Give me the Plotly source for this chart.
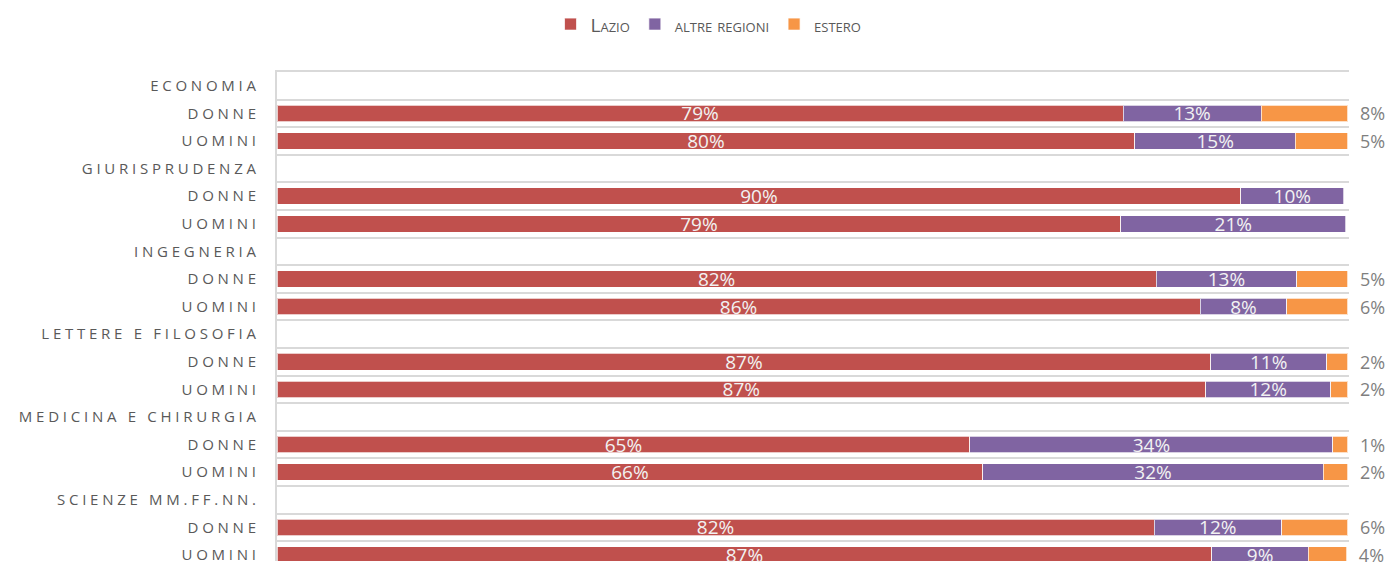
import plotly.graph_objects as go

# row labels, top to bottom (faculty header followed by women / men)
rows = [
    "ECONOMIA", "DONNE", "UOMINI",
    "GIURISPRUDENZA", "DONNE", "UOMINI",
    "INGEGNERIA", "DONNE", "UOMINI",
    "LETTERE E FILOSOFIA", "DONNE", "UOMINI",
    "MEDICINA E CHIRURGIA", "DONNE", "UOMINI",
    "SCIENZE MM.FF.NN.", "DONNE", "UOMINI",
]

# shares (%); None = header row / no bar
lazio = [None, 79.0, 80.1, None, 90.0, 78.8, None, 82.1, 86.2,
         None, 87.2, 86.7, None, 64.7, 65.9, None, 81.9, 87.3]
altre_regioni = [None, 12.9, 15.0, None, 9.6, 21.0, None, 13.1, 8.1,
                 None, 10.8, 11.7, None, 33.9, 31.8, None, 11.9, 9.0]
estero = [None, 8.1, 4.9, None, None, None, None, 4.8, 5.7,
          None, 2.0, 1.6, None, 1.4, 2.3, None, 6.2, 3.6]

colors = {"lazio": "#C0504D", "altre": "#8064A2", "estero": "#F79646"}
FONT = "Open Sans"
GRID = "#D9D9D9"


def spaced(label):
    # mimic the wide letter spacing of the original axis labels
    return "\u2005\u2005\u2005".join("\u2005".join(word) for word in label.split(" "))


ypos = list(range(len(rows)))

fig = go.Figure()
for name, vals, col, pos, tmpl in [
    ("Lazio", lazio, colors["lazio"], "inside", "%{x:.0f}%"),
    ("altre regioni", altre_regioni, colors["altre"], "inside", "%{x:.0f}%"),
    ("estero", estero, colors["estero"], "outside", "\u2002%{x:.0f}%"),
]:
    fig.add_trace(go.Bar(
        name=name,
        y=ypos,
        x=vals,
        orientation="h",
        width=0.6,
        marker=dict(color=col, line=dict(color="rgba(255,255,255,0.7)", width=1)),
        texttemplate=tmpl,
        textposition=pos,
        insidetextanchor="middle",
        constraintext="none",
        cliponaxis=False,
        textangle=0,
        insidetextfont=dict(family=FONT, size=19, color="#F2F2F2"),
        outsidetextfont=dict(family=FONT, size=18, color="#7F7F7F"),
        hoverinfo="skip",
    ))

fig.update_layout(
    width=1392,
    height=564,
    barmode="stack",
    plot_bgcolor="white",
    paper_bgcolor="white",
    margin=dict(l=277, r=43, t=72, b=0),
    font=dict(family=FONT, color="#595959"),
    legend=dict(
        orientation="h",
        xref="container", yref="container",
        x=0.509, y=0.957, xanchor="center", yanchor="middle",
        font=dict(family=FONT, size=19, color="#595959", variant="small-caps"),
        itemwidth=30,
        traceorder="normal",
    ),
    xaxis=dict(range=[0, 100.1], showgrid=False, zeroline=False,
               showticklabels=False, fixedrange=True, side="top",
               showline=True, linecolor=GRID, linewidth=2),
    yaxis=dict(
        range=[17.22, -0.5],
        tickvals=ypos,
        ticktext=[spaced(r) for r in rows],
        tickfont=dict(family=FONT, size=15, color="#595959"),
        ticks="",
        ticklabelstandoff=16,
        ticklabeloverflow="allow",
        showgrid=False,
        zeroline=False,
        showline=True,
        linecolor=GRID,
        linewidth=2,
        minor=dict(tick0=-0.5, dtick=1, showgrid=True,
                   gridcolor=GRID, gridwidth=2, ticks=""),
    ),
)

# drop the default 8px page margin so the figure sits at the window corner
fig.write_html("out.html", config={"displayModeBar": False},
               post_script="document.body.style.margin='0';")
